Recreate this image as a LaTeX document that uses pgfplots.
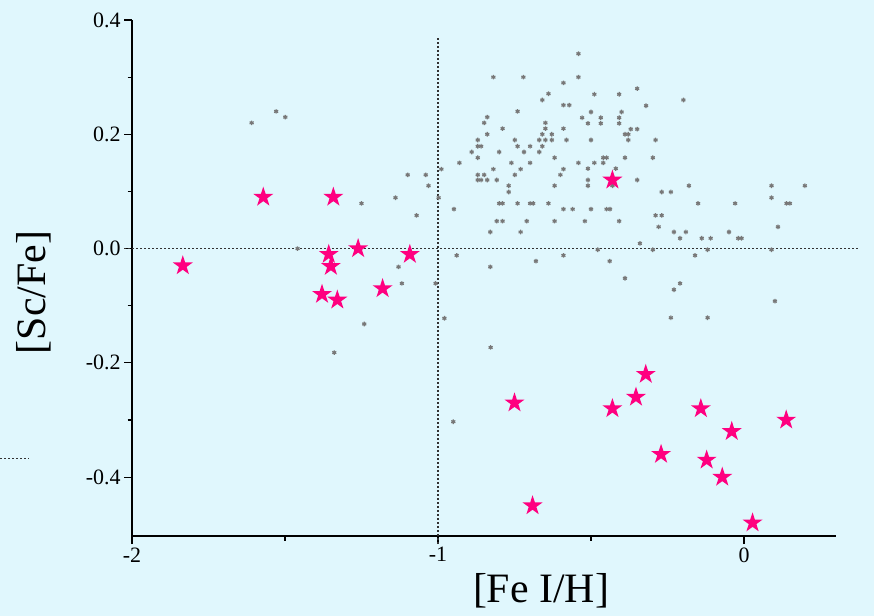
\documentclass[border=0pt]{standalone}
\usepackage{fontspec}
\setmainfont{Liberation Serif}
\usepackage{pgfplots}
\pgfplotsset{compat=1.18}

\definecolor{bgcyan}{RGB}{224,247,253}
\definecolor{starpink}{RGB}{255,0,128}
\definecolor{dotgray}{RGB}{120,120,120}
\definecolor{guide}{RGB}{50,50,50}

% filled five-pointed star
\pgfdeclareplotmark{fstar}{%
  \pgfpathmoveto{\pgfpointpolar{90}{\pgfplotmarksize}}%
  \pgfpathlineto{\pgfpointpolar{126}{0.382\pgfplotmarksize}}%
  \pgfpathlineto{\pgfpointpolar{162}{\pgfplotmarksize}}%
  \pgfpathlineto{\pgfpointpolar{198}{0.382\pgfplotmarksize}}%
  \pgfpathlineto{\pgfpointpolar{234}{\pgfplotmarksize}}%
  \pgfpathlineto{\pgfpointpolar{270}{0.382\pgfplotmarksize}}%
  \pgfpathlineto{\pgfpointpolar{306}{\pgfplotmarksize}}%
  \pgfpathlineto{\pgfpointpolar{342}{0.382\pgfplotmarksize}}%
  \pgfpathlineto{\pgfpointpolar{18}{\pgfplotmarksize}}%
  \pgfpathlineto{\pgfpointpolar{54}{0.382\pgfplotmarksize}}%
  \pgfpathclose
  \pgfusepathqfill
}

% field stars
\pgfplotstableread{
x y
-1.609 0.220
-1.529 0.240
-1.499 0.230
-1.459 0.000
-0.819 0.300
-0.721 0.300
-0.541 0.341
-0.541 0.300
-0.590 0.290
-0.639 0.271
-0.659 0.260
-0.590 0.251
-0.571 0.251
-0.740 0.240
-0.839 0.230
-0.849 0.220
-0.649 0.220
-0.789 0.210
-0.649 0.210
-0.590 0.210
-0.839 0.200
-0.659 0.200
-0.628 0.200
-0.870 0.190
-0.749 0.190
-0.669 0.190
-0.649 0.190
-0.628 0.190
-0.580 0.190
-0.870 0.179
-0.859 0.179
-0.740 0.179
-0.699 0.179
-0.659 0.179
-0.890 0.169
-0.800 0.169
-0.719 0.169
-0.669 0.169
-0.870 0.159
-0.619 0.159
-0.930 0.150
-0.760 0.150
-0.699 0.150
-0.541 0.150
-0.989 0.139
-0.819 0.139
-0.730 0.139
-0.590 0.139
-1.099 0.129
-1.040 0.129
-0.870 0.129
-0.849 0.129
-0.749 0.129
-0.600 0.129
-0.870 0.120
-0.859 0.120
-0.839 0.120
-0.808 0.120
-1.031 0.110
-0.769 0.110
-0.619 0.110
-0.769 0.099
-1.139 0.089
-0.998 0.089
-1.250 0.079
-0.800 0.079
-0.789 0.079
-0.740 0.079
-0.699 0.079
-0.689 0.079
-0.639 0.079
-0.948 0.069
-0.590 0.069
-0.560 0.069
-1.070 0.058
-0.808 0.048
-0.789 0.048
-0.710 0.048
-0.619 0.048
-0.829 0.029
-0.730 0.029
-0.939 -0.012
-0.590 -0.012
-0.680 -0.022
-1.129 -0.032
-0.829 -0.032
-0.489 0.270
-0.408 0.270
-0.349 0.280
-0.198 0.260
-0.320 0.250
-0.500 0.239
-0.400 0.239
-0.529 0.229
-0.468 0.229
-0.408 0.229
-0.510 0.219
-0.468 0.219
-0.408 0.219
-0.370 0.209
-0.349 0.209
-0.389 0.200
-0.378 0.200
-0.500 0.190
-0.378 0.190
-0.289 0.190
-0.460 0.159
-0.449 0.159
-0.389 0.159
-0.298 0.159
-0.489 0.150
-0.460 0.150
-0.510 0.140
-0.419 0.140
-0.510 0.120
-0.349 0.120
-0.510 0.110
-0.430 0.110
-0.180 0.110
0.090 0.110
0.199 0.110
-0.269 0.099
-0.239 0.099
0.090 0.089
-0.150 0.079
-0.029 0.079
0.139 0.079
0.150 0.079
-0.500 0.069
-0.449 0.069
-0.438 0.069
-0.520 0.048
-0.408 0.048
-0.289 0.058
-0.269 0.058
-0.279 0.038
0.111 0.038
-0.229 0.029
-0.190 0.029
-0.049 0.029
-0.209 0.018
-0.138 0.018
-0.109 0.018
-0.019 0.018
-0.008 0.018
-0.340 0.009
-0.478 -0.002
-0.298 -0.002
-0.119 -0.002
0.090 -0.002
-0.160 -0.012
-0.439 -0.022
-0.389 -0.052
-0.209 -0.061
-0.229 -0.072
0.101 -0.092
-0.239 -0.121
-0.119 -0.121
-1.339 -0.182
-1.241 -0.132
-0.979 -0.122
-0.828 -0.173
-0.950 -0.303
-1.118 -0.061
-1.008 -0.061
}\fieldstars

% program stars
\pgfplotstableread{
x y
-1.834 -0.030
-1.571 0.090
-1.342 0.090
-1.261 0.000
-1.357 -0.010
-1.350 -0.031
-1.092 -0.010
-1.379 -0.080
-1.329 -0.090
-1.181 -0.070
-0.430 0.120
-0.750 -0.270
-0.691 -0.450
-0.430 -0.280
-0.353 -0.260
-0.321 -0.220
-0.271 -0.360
-0.141 -0.280
-0.122 -0.370
-0.040 -0.320
-0.071 -0.400
0.028 -0.480
0.138 -0.300
}\programstars

\begin{document}
\begin{tikzpicture}
\path[use as bounding box, fill=bgcyan] (0,0) rectangle (874bp,616bp);
\begin{axis}[
  at={(132bp,80bp)}, anchor=south west,
  scale only axis, width=704bp, height=516bp,
  xmin=-2, xmax=0.3007, ymin=-0.503, ymax=0.4,
  axis x line*=bottom, axis y line*=left,
  axis line style={line width=1.4bp, -},
  clip=false,
  xtick={-2,-1,0}, xticklabels={-2,-1,0},
  minor xtick={-1.5,-0.5},
  ytick={-0.4,-0.2,0,0.2,0.4}, yticklabels={-0.4,-0.2,0.0,0.2,0.4},
  minor ytick={-0.3,-0.1,0.1,0.3},
  tick align=outside,
  major tick length=8bp, minor tick length=4.5bp,
  every tick/.style={black, line width=1.2bp},
  tick label style={font=\fontsize{22}{26}\selectfont},
  xlabel={\relax[Fe I/H]}, ylabel={\relax[Sc/Fe]},
  label style={font=\fontsize{42}{48}\selectfont},
  xlabel style={at={(axis description cs:0.581,-0.107)}, anchor=center},
  ylabel style={at={(axis description cs:-0.140,0.472)}, anchor=center},
]
% reference lines
\addplot[guide, line width=1.1bp, dash pattern=on 2bp off 2bp, forget plot]
  coordinates {(-2.026,0) (0.379,0)};
\addplot[guide, line width=1.1bp, dash pattern=on 2bp off 2bp, forget plot]
  coordinates {(-1,0.368) (-1,-0.519)};
\addplot[guide, line width=1.1bp, dash pattern=on 2bp off 2bp, forget plot]
  coordinates {(-2.431,-0.367) (-2.337,-0.367)};

\addplot[only marks, mark=asterisk, mark size=2.3bp, dotgray,
  mark options={line width=1.2bp}] table[x=x,y=y] {\fieldstars};
\addplot[only marks, mark=fstar, mark size=10.5bp, starpink]
  table[x=x,y=y] {\programstars};
\end{axis}
\end{tikzpicture}
\end{document}
